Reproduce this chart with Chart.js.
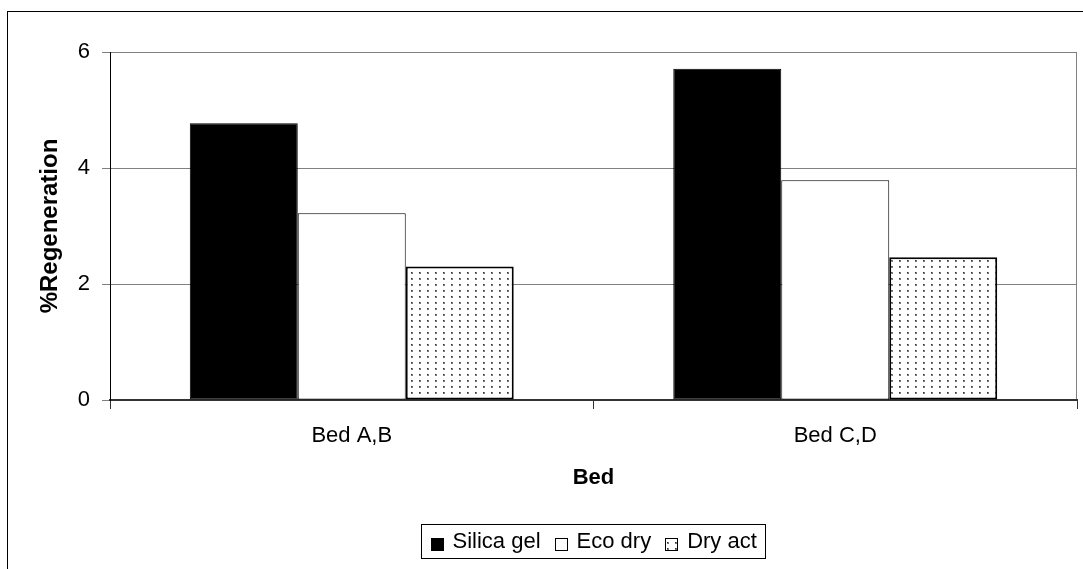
<!DOCTYPE html>
<html>
<head>
<meta charset="utf-8">
<script src="https://cdn.jsdelivr.net/npm/chart.js@4/dist/chart.umd.min.js"></script>
<style>
  html, body { margin: 0; padding: 0; background: #fff; }
  canvas { display: block; }
</style>
</head>
<body>
<canvas id="c" width="1083" height="569"></canvas>
<script>
// Regeneration per bed pair and desiccant
const categories = ['Bed A,B', 'Bed C,D'];
const seriesNames = ['Silica gel', 'Eco dry', 'Dry act'];
const silicaGel = [4.77, 5.71];
const ecoDry = [3.22, 3.79];
const dryAct = [2.30, 2.46];
const yTicks = [0, 2, 4, 6];

const FONT = '"Liberation Sans", Arial, Helvetica, sans-serif';
const canvas = document.getElementById('c');
const ctx0 = canvas.getContext('2d');

// Small dotted fill used for "Dry act"
function dotPattern() {
  const t = document.createElement('canvas');
  t.width = 8; t.height = 6;
  const g = t.getContext('2d');
  g.fillStyle = '#fff';
  g.fillRect(0, 0, 8, 6);
  g.fillStyle = '#777';
  g.fillRect(3, 2, 2, 2);
  g.fillStyle = '#333';
  g.fillRect(3, 2, 1, 1);
  return ctx0.createPattern(t, 'repeat');
}
const dots = dotPattern();

// Outer frame and right edge of the plot area
const framePlugin = {
  id: 'frame',
  beforeDraw(chart) {
    const { ctx, chartArea } = chart;
    ctx.save();
    ctx.fillStyle = '#fff';
    ctx.fillRect(0, 0, chart.width, chart.height);
    ctx.strokeStyle = '#000';
    ctx.lineWidth = 1;
    ctx.strokeRect(7.5, 11.5, chart.width + 50, chart.height + 50);
    ctx.strokeStyle = '#808080';
    ctx.beginPath();
    ctx.moveTo(Math.round(chartArea.right) - 0.5, chartArea.top);
    ctx.lineTo(Math.round(chartArea.right) - 0.5, chartArea.bottom);
    ctx.stroke();
    ctx.restore();
  }
};

// Legend drawn in a framed box centred under the plot area
const boxedLegend = {
  id: 'boxedLegend',
  afterDraw(chart) {
    const { ctx, chartArea } = chart;
    ctx.save();
    ctx.font = '22px ' + FONT;
    const sw = 12, gapText = 10, gapItem = 14, padX = 9;
    const items = chart.data.datasets.map(ds => ({
      label: ds.label,
      fill: ds.backgroundColor,
      border: ds.borderColor,
      w: ctx.measureText(ds.label).width
    }));
    const total = padX * 2 + items.reduce((a, it) => a + sw + gapText + it.w, 0) + gapItem * (items.length - 1);
    const cx = (chartArea.left + chartArea.right) / 2;
    const left = Math.round(cx - total / 2) + 0.5;
    const top = Math.round(chart.scales.x.bottom + 33) + 0.5;
    const h = 34;
    ctx.strokeStyle = '#000';
    ctx.lineWidth = 1;
    ctx.strokeRect(left, top, Math.round(total), h);
    let x = left + padX;
    const mid = top + h / 2;
    items.forEach(it => {
      const sx = Math.round(x) + 0.5, sy = Math.round(mid - 4) + 0.5;
      ctx.fillStyle = it.fill;
      ctx.fillRect(sx, sy, sw, sw);
      ctx.strokeStyle = '#000';
      ctx.strokeRect(sx, sy, sw, sw);
      ctx.fillStyle = '#000';
      ctx.textBaseline = 'middle';
      ctx.textAlign = 'left';
      ctx.fillText(it.label, x + sw + gapText, mid);
      x += sw + gapText + it.w + gapItem;
    });
    ctx.restore();
  }
};

Chart.defaults.color = '#000';
Chart.defaults.font.family = FONT;

new Chart(canvas, {
  type: 'bar',
  data: {
    labels: categories,
    datasets: [
      { label: seriesNames[0], data: silicaGel, backgroundColor: '#000', borderColor: '#000', borderWidth: 1 },
      { label: seriesNames[1], data: ecoDry, backgroundColor: '#fff', borderColor: '#000', borderWidth: 1 },
      { label: seriesNames[2], data: dryAct, backgroundColor: dots, borderColor: '#000', borderWidth: 2 }
    ]
  },
  options: {
    responsive: false,
    animation: false,
    devicePixelRatio: 1,
    layout: { padding: { left: 0, top: 52, right: 6, bottom: 78 } },
    datasets: { bar: { categoryPercentage: 0.67, barPercentage: 1.0, borderSkipped: false } },
    plugins: {
      legend: { display: false },
      tooltip: { enabled: false }
    },
    scales: {
      x: {
        afterFit(s) { s.height = 91; },
        grid: { display: true, offset: true, drawOnChartArea: false, drawTicks: true, tickLength: 9, color: '#333', lineWidth: 1 },
        border: { display: true, color: '#333', width: 2 },
        ticks: { font: { size: 22 }, padding: 14, color: '#000' },
        title: { display: true, text: 'Bed', font: { size: 22, weight: 'bold' }, color: '#000', padding: { top: 0, bottom: 0 } }
      },
      y: {
        min: 0, max: 6,
        afterFit(s) { s.width = 110; },
        afterBuildTicks(s) { s.ticks = yTicks.map(v => ({ value: v })); },
        grid: { color: '#808080', lineWidth: 1, drawTicks: true, tickLength: 8 },
        border: { display: true, color: '#000', width: 1 },
        ticks: { font: { size: 22 }, padding: 12, color: '#000' },
        title: { display: true, text: '%Regeneration', font: { size: 24, weight: 'bold' }, color: '#000', padding: { top: 36, bottom: 0 } }
      }
    }
  },
  plugins: [framePlugin, boxedLegend]
});
</script>
</body>
</html>
